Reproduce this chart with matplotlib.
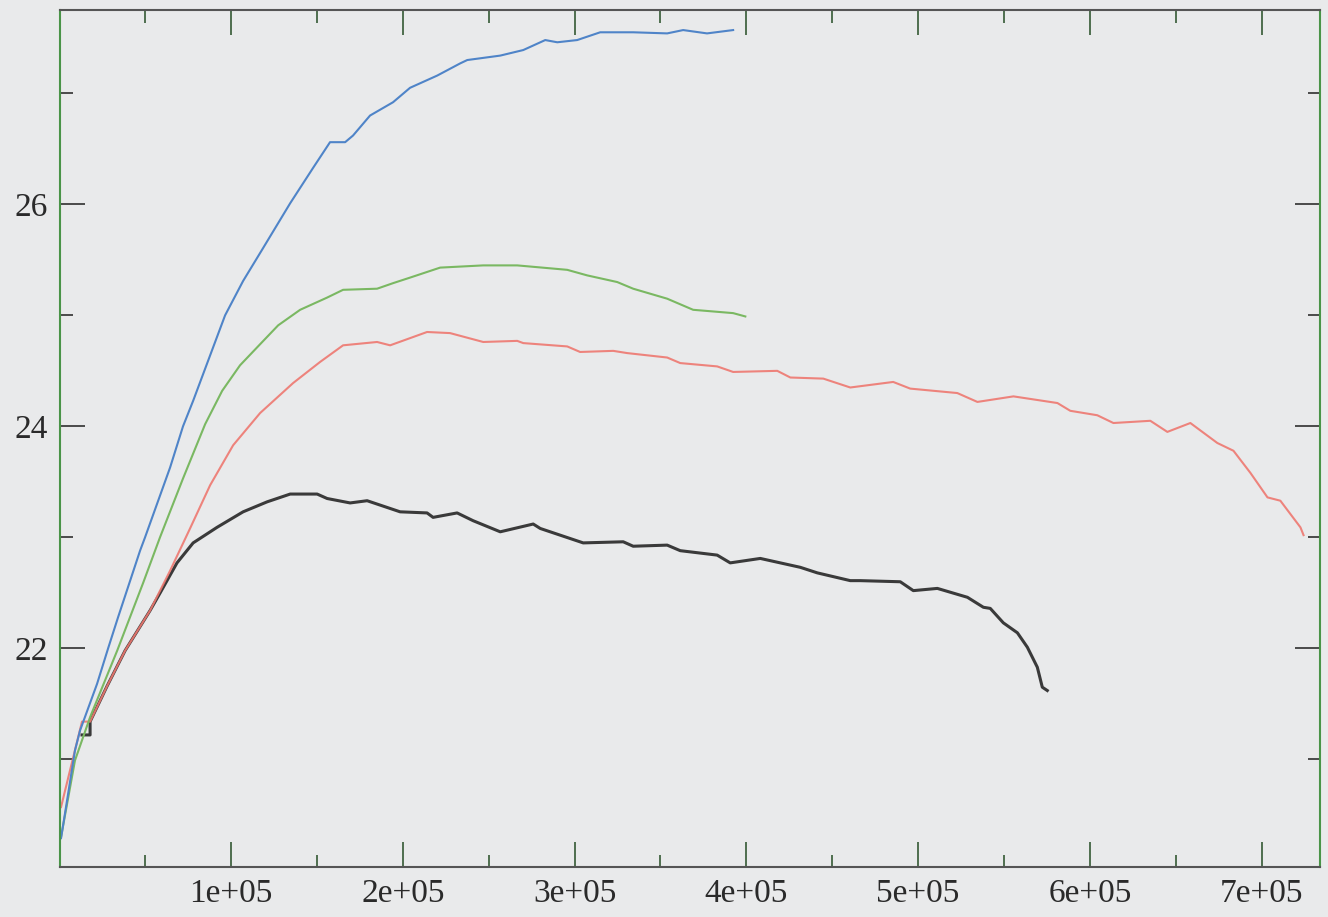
import matplotlib
matplotlib.use("Agg")
import matplotlib.pyplot as plt
from matplotlib.ticker import FixedLocator, FuncFormatter, NullFormatter

plt.rcParams["font.family"] = ["Liberation Serif", "DejaVu Serif"]

# Four runs: x = iteration, y = score
blue_x = [990, 4500, 9100, 12050, 21960, 28400, 34190, 47000, 49900, 64500, 72000,
          77900, 96500, 107000, 118000, 134400, 147800, 157600, 166400, 171000,
          180900, 194300, 204200, 220000, 233400, 237500, 256700, 270100, 282900,
          289900, 301500, 314900, 334100, 353900, 363200, 377100, 392300]
blue_y = [20.29, 20.63, 21.08, 21.26, 21.68, 22.00, 22.28, 22.88, 23.00, 23.63, 24.00,
          24.23, 25.00, 25.31, 25.59, 26.01, 26.33, 26.56, 26.56, 26.62,
          26.80, 26.92, 27.05, 27.16, 27.27, 27.30, 27.34, 27.39, 27.48,
          27.46, 27.48, 27.55, 27.55, 27.54, 27.57, 27.54, 27.57]

green_x = [1000, 9100, 17900, 33700, 48800, 58600, 72000, 84900, 94800, 105200,
           116900, 127400, 140200, 155900, 165200, 185000, 194300, 204200, 221700,
           246800, 266600, 295700, 307300, 324800, 334100, 353900, 369000, 392300,
           399400]
green_y = [20.30, 20.99, 21.38, 21.98, 22.59, 23.00, 23.53, 24.02, 24.32, 24.55,
           24.74, 24.91, 25.05, 25.16, 25.23, 25.24, 25.29, 25.34, 25.43,
           25.45, 25.45, 25.41, 25.36, 25.30, 25.24, 25.15, 25.05, 25.02,
           24.99]

red_x = [990, 6200, 13200, 17900, 27800, 38300, 52800, 64500, 76100, 87800, 101200,
         116900, 136100, 151800, 165200, 185000, 192600, 214100, 227500, 246800,
         266600, 270100, 295700, 303200, 322500, 330600, 353900, 361500, 383000,
         392300, 418000, 425600, 444800, 460500, 485500, 495400, 522800, 534500,
         555500, 581100, 588600, 604300, 613700, 635200, 645100, 658500, 674200,
         683600, 693500, 703400, 710900, 722600, 724400]
red_y = [20.57, 20.90, 21.34, 21.34, 21.66, 21.98, 22.34, 22.70, 23.08, 23.47, 23.83,
         24.12, 24.39, 24.58, 24.73, 24.76, 24.73, 24.85, 24.84, 24.76,
         24.77, 24.75, 24.72, 24.67, 24.68, 24.66, 24.62, 24.57, 24.54,
         24.49, 24.50, 24.44, 24.43, 24.35, 24.40, 24.34, 24.30, 24.22,
         24.27, 24.21, 24.14, 24.10, 24.03, 24.05, 23.95, 24.03, 23.85,
         23.78, 23.58, 23.36, 23.33, 23.09, 23.02]

black_x = [13200, 17900, 17900, 27800, 38300, 52800, 58700, 68500, 77900, 91800,
           107000, 121000, 134400, 150100, 155900, 169300, 179200, 198400, 214100,
           217600, 231600, 240900, 256700, 275900, 280000, 305000, 328300, 334100,
           353900, 361500, 383000, 390600, 408100, 431400, 441300, 460500, 466300,
           489600, 497200, 511200, 528700, 538000, 542000, 549600, 557800, 563600,
           569400, 572300, 575200]
black_y = [21.22, 21.22, 21.34, 21.66, 21.98, 22.34, 22.50, 22.77, 22.95, 23.09,
           23.23, 23.32, 23.39, 23.39, 23.35, 23.31, 23.33, 23.23, 23.22,
           23.18, 23.22, 23.15, 23.05, 23.12, 23.08, 22.95, 22.96, 22.92,
           22.93, 22.88, 22.84, 22.77, 22.81, 22.73, 22.68, 22.61, 22.61,
           22.60, 22.52, 22.54, 22.46, 22.37, 22.36, 22.23, 22.14, 22.01,
           21.83, 21.65, 21.62]

x_major = [100000, 200000, 300000, 400000, 500000, 600000, 700000]
x_minor = [50000, 150000, 250000, 350000, 450000, 550000, 650000]
y_major = [22, 24, 26]
y_minor = [21, 23, 25, 27]

paper = "#e9eaeb"
fig = plt.figure(figsize=(13.28, 9.17), dpi=100, facecolor=paper)
ax = fig.add_axes([0.0452, 0.0545, 0.9488, 0.9345], facecolor=paper)

ax.plot(black_x, black_y, color="#3a3a3a", lw=2.2, solid_joinstyle="round")
ax.plot(red_x, red_y, color="#ee7870", lw=1.5, solid_joinstyle="round", alpha=0.9)
ax.plot(green_x, green_y, color="#7ab862", lw=1.5, solid_joinstyle="round")
ax.plot(blue_x, blue_y, color="#4f84c8", lw=1.5, solid_joinstyle="round")

ax.set_xlim(400, 734000)
ax.set_ylim(20.03, 27.75)

ax.xaxis.set_major_locator(FixedLocator(x_major))
ax.xaxis.set_minor_locator(FixedLocator(x_minor))
ax.yaxis.set_major_locator(FixedLocator(y_major))
ax.yaxis.set_minor_locator(FixedLocator(y_minor))
ax.xaxis.set_major_formatter(FuncFormatter(lambda v, p: f"{v:.0e}"))
ax.xaxis.set_minor_formatter(NullFormatter())
ax.yaxis.set_major_formatter(FuncFormatter(lambda v, p: f"{v:g}"))

ax.tick_params(axis="both", which="both", direction="in", top=True, right=True,
               labelsize=24, labelcolor="#2a2a2a")
ax.tick_params(axis="both", which="major", length=18, width=1.4)
ax.tick_params(axis="both", which="minor", length=9, width=1.4)
ax.tick_params(axis="x", which="both", colors="#4e6e4e", labelcolor="#2a2a2a", pad=8)
ax.tick_params(axis="y", which="both", colors="#4a4a4a", labelcolor="#2a2a2a", pad=9)

for side, col in (("left", "#4a9448"), ("right", "#4a9448"),
                  ("top", "#555555"), ("bottom", "#555555")):
    ax.spines[side].set_color(col)
    ax.spines[side].set_linewidth(1.5)

fig.savefig("out.png", dpi=100, facecolor=paper)
